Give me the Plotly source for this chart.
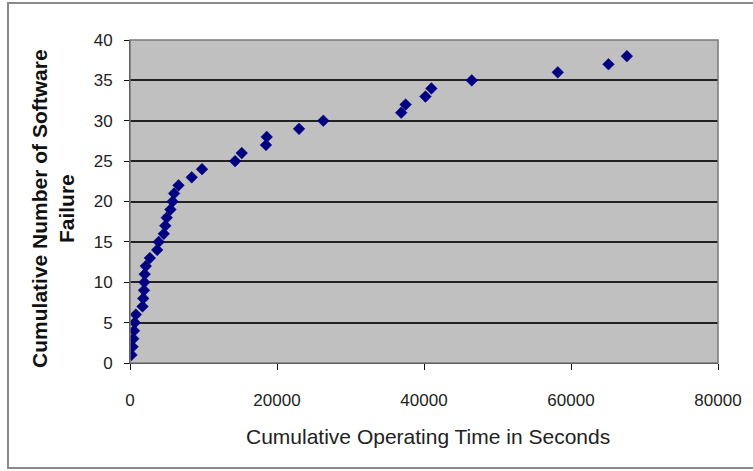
import plotly.graph_objects as go

# Cumulative operating time (seconds) at each software failure
failure_count = list(range(1, 39))
operating_time = [
    200, 350, 450, 550, 650, 800, 1700, 1800, 1900, 1950,
    2000, 2150, 2700, 3700, 3900, 4600, 4800, 5000, 5500, 5800,
    6000, 6600, 8400, 9800, 14300, 15200, 18500, 18600, 23000, 26300,
    36900, 37500, 40200, 41000, 46500, 58200, 65100, 67600,
]

x_ticks = [0, 20000, 40000, 60000, 80000]
y_ticks = [0, 5, 10, 15, 20, 25, 30, 35, 40]

FONT = "Liberation Sans, Arial, sans-serif"

fig = go.Figure()
fig.add_trace(go.Scatter(
    x=operating_time,
    y=failure_count,
    mode="markers",
    marker=dict(symbol="diamond", size=9, color="#000080",
                line=dict(width=0.5, color="#000080")),
    showlegend=False,
))

# Outer chart frame
fig.add_shape(type="rect", xref="paper", yref="paper",
              x0=-0.2075, x1=1.12, y0=-0.325, y1=1.1146,
              line=dict(color="#8a8a8a", width=2), layer="below")

fig.update_layout(
    width=753, height=471,
    margin=dict(l=130, r=35, t=40, b=108),
    paper_bgcolor="white",
    plot_bgcolor="#c0c0c0",
    font=dict(family=FONT, size=17, color="#222222"),
    xaxis=dict(
        range=[0, 80000], tickvals=x_ticks, tickformat="d",
        showgrid=False, zeroline=False,
        showline=True, linecolor="#111111", linewidth=1,
        mirror=False, ticks="outside", ticklen=6, tickcolor="#111111",
        ticklabelstandoff=16,
        tickfont=dict(size=17, family=FONT, color="#222222"),
    ),
    yaxis=dict(
        range=[0, 40], tickvals=y_ticks,
        showgrid=True, gridcolor="#222222", gridwidth=1.5,
        zeroline=False,
        showline=True, linecolor="#111111", linewidth=1,
        ticks="outside", ticklen=5, tickcolor="#111111",
        ticklabelstandoff=8,
        tickfont=dict(size=17, family=FONT, color="#222222"),
    ),
    annotations=[
        dict(text="Cumulative Operating Time in Seconds",
             xref="paper", yref="paper", x=0.506, y=-0.229,
             showarrow=False, font=dict(size=21, family=FONT, color="#222222"),
             xanchor="center", yanchor="middle"),
        dict(text="<b>Cumulative Number of Software<br>Failure</b>",
             xref="paper", yref="paper", x=-0.131, y=0.48,
             showarrow=False, textangle=-90,
             font=dict(size=21, family=FONT, color="#111111"),
             xanchor="center", yanchor="middle"),
    ],
)

# Plot-area border
fig.add_shape(type="rect", xref="paper", yref="paper",
              x0=0, x1=1, y0=0, y1=1,
              line=dict(color="#7a7a7a", width=1.5), layer="above")

fig.write_html("out.html")
